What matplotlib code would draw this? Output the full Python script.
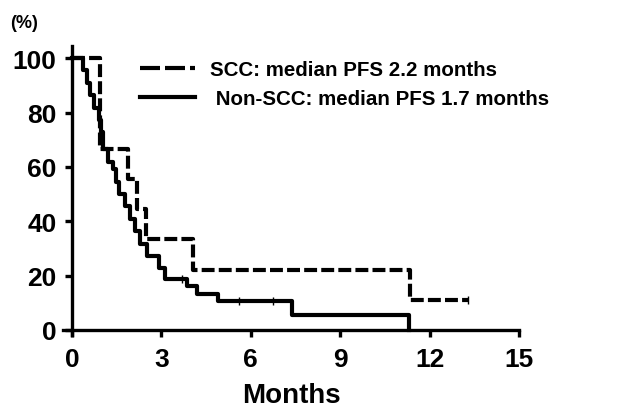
import matplotlib
matplotlib.use('Agg')
import matplotlib.pyplot as plt
from matplotlib.lines import Line2D

plt.rcParams['font.family'] = ['Liberation Sans', 'DejaVu Sans']
plt.rcParams['font.weight'] = 'bold'

# SCC group (dashed), Kaplan-Meier steps
scc_t = [0, 0.94, 1.88, 2.18, 2.48, 4.06, 11.34, 13.3]
scc_s = [100, 66.7, 55.6, 44.4, 33.3, 22.2, 11.1, 11.1]
scc_cens_t = [13.3]
scc_cens_s = [11.1]

# Non-SCC group (solid)
non_t = [0, 0.37, 0.5, 0.6, 0.75, 0.9, 0.97, 1.03, 1.2, 1.38, 1.48, 1.58, 1.78,
         1.95, 2.1, 2.28, 2.52, 2.92, 3.12, 3.86, 4.19, 4.9, 7.4, 11.3]
non_s = [100, 95.5, 90.9, 86.4, 81.8, 77.3, 72.7, 66.5, 61.8, 59.1, 54.5, 50, 45.5,
         40.9, 36.4, 31.8, 27.3, 22.7, 18.8, 16.2, 13.2, 10.7, 5.5, 0]
non_cens_t = [3.7, 5.6, 6.75]
non_cens_s = [18.8, 10.7, 10.7]

labels = ['SCC: median PFS 2.2 months', ' Non-SCC: median PFS 1.7 months']
xticks = [0, 3, 6, 9, 12, 15]
yticks = [0, 20, 40, 60, 80, 100]

fig = plt.figure(figsize=(6.37, 4.14), dpi=100)
ax = fig.add_axes([0.0989, 0.1874, 0.7182, 0.699])

lw = 3.0
ax.step(scc_t, scc_s, where='post', color='black', lw=lw, linestyle=(0, (3.1, 1.0)))
ax.step(non_t, non_s, where='post', color='black', lw=lw)
ax.plot(scc_cens_t, scc_cens_s, '|', color='black', ms=6, mew=1)
ax.plot(non_cens_t, non_cens_s, '|', color='black', ms=6, mew=1)

ax.set_xlim(-0.3, 15.05)
ax.set_ylim(-2, 104.5)
for side in ['top', 'right']:
    ax.spines[side].set_visible(False)
ax.spines['left'].set_position(('data', 0))
ax.spines['bottom'].set_position(('data', 0))
ax.spines['left'].set_bounds(-2, 104.5)
ax.spines['bottom'].set_bounds(-0.3, 15)
for side in ['left', 'bottom']:
    ax.spines[side].set_linewidth(2.4)

ax.set_xticks(xticks)
ax.set_yticks(yticks)
ax.tick_params(axis='both', direction='out', length=5, width=2.4, labelsize=19)
ax.tick_params(axis='y', pad=6)
ax.tick_params(axis='x', pad=7)
for lab in ax.get_xticklabels() + ax.get_yticklabels():
    lab.set_fontweight('bold')

ax.set_xlabel('Months', fontsize=20, fontweight='bold', labelpad=8)
fig.text(10 / 637, 1 - 23 / 414, '(%)', fontsize=13, fontweight='bold', va='center', ha='left')

h1 = Line2D([], [], color='black', lw=lw, linestyle=(0, (4.8, 1.2)))
h2 = Line2D([], [], color='black', lw=lw)
ax.legend([h1, h2], labels, loc='upper left', bbox_to_anchor=(140 / 637, 1 - 61 / 414),
          bbox_transform=fig.transFigure, frameon=False,
          handlelength=2.68, handletextpad=0.73, labelspacing=0.5, borderpad=0,
          borderaxespad=0, prop={'weight': 'bold', 'size': 14.8})

fig.savefig('out.png', dpi=100)
